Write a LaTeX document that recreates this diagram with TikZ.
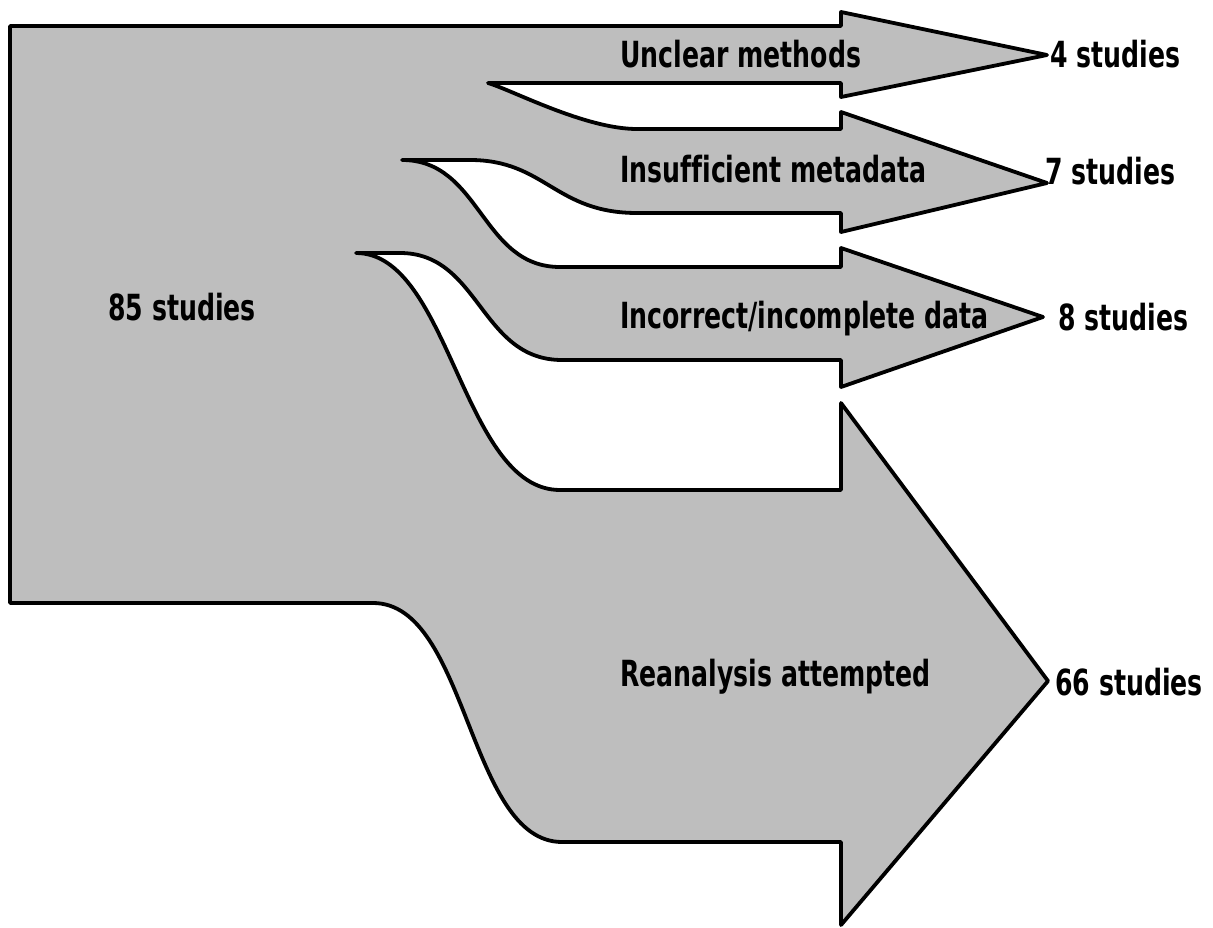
\documentclass[tikz,border=0pt]{standalone}
\usepackage{fontspec}
\setmainfont{DejaVu Sans}[FakeStretch=0.7, Ligatures=NoCommon]
\begin{document}
\begin{tikzpicture}[x=1pt,y=-1pt]
\tikzset{
  flow/.style={fill={rgb,255:red,190;green,190;blue,190}, draw=black,
               line width=3.8pt, line join=round},
  lbl/.style={anchor=base west, inner sep=0pt, text=black,
              font=\bfseries\fontsize{36}{40}\selectfont},
}
\useasboundingbox (0,0) rectangle (1213,928);

% the whole flow: trunk of 85 studies splitting into four arrows
\path[flow] (10,26) -- (841,26) -- (841,12) -- (1047,55) -- (841,97) -- (841,83) -- (488,83)
  .. controls (512,90) and (585,129) .. (637,129) -- (841,129)
  -- (841,112) -- (1047,183) -- (841,232) -- (841,213) -- (637,213)
  .. controls (555,213) and (545,160) .. (470,160) -- (402,160)
  .. controls (481,160) and (481,267) .. (560,267) -- (841,267)
  -- (841,248) -- (1043,317) -- (841,387) -- (841,360) -- (562,360)
  .. controls (480,360) and (480,253) .. (400,253) -- (356,253)
  .. controls (450,253) and (462,490) .. (560,490) -- (841,490)
  -- (841,403) -- (1048,681) -- (841,925) -- (841,842) -- (562,842)
  .. controls (468,842) and (468,603) .. (373,603) -- (10,603) -- cycle;

% labels
\node[lbl] (src) at (108,320) {85 studies};
\node[lbl] (meth) at (620,68) {Unclear methods};
\node[lbl] (meta) at (620,183) {Insufficient metadata};
\node[lbl] (data) at (620,328) {Incorrect/incomplete data};
\node[lbl] (rean) at (620,686) {Reanalysis attempted};
\node[lbl] (n4) at (1050,68) {4 studies};
\node[lbl] (n7) at (1045,185) {7 studies};
\node[lbl] (n8) at (1058,330) {8 studies};
\node[lbl] (n66) at (1055,695) {66 studies};
\end{tikzpicture}
\end{document}
